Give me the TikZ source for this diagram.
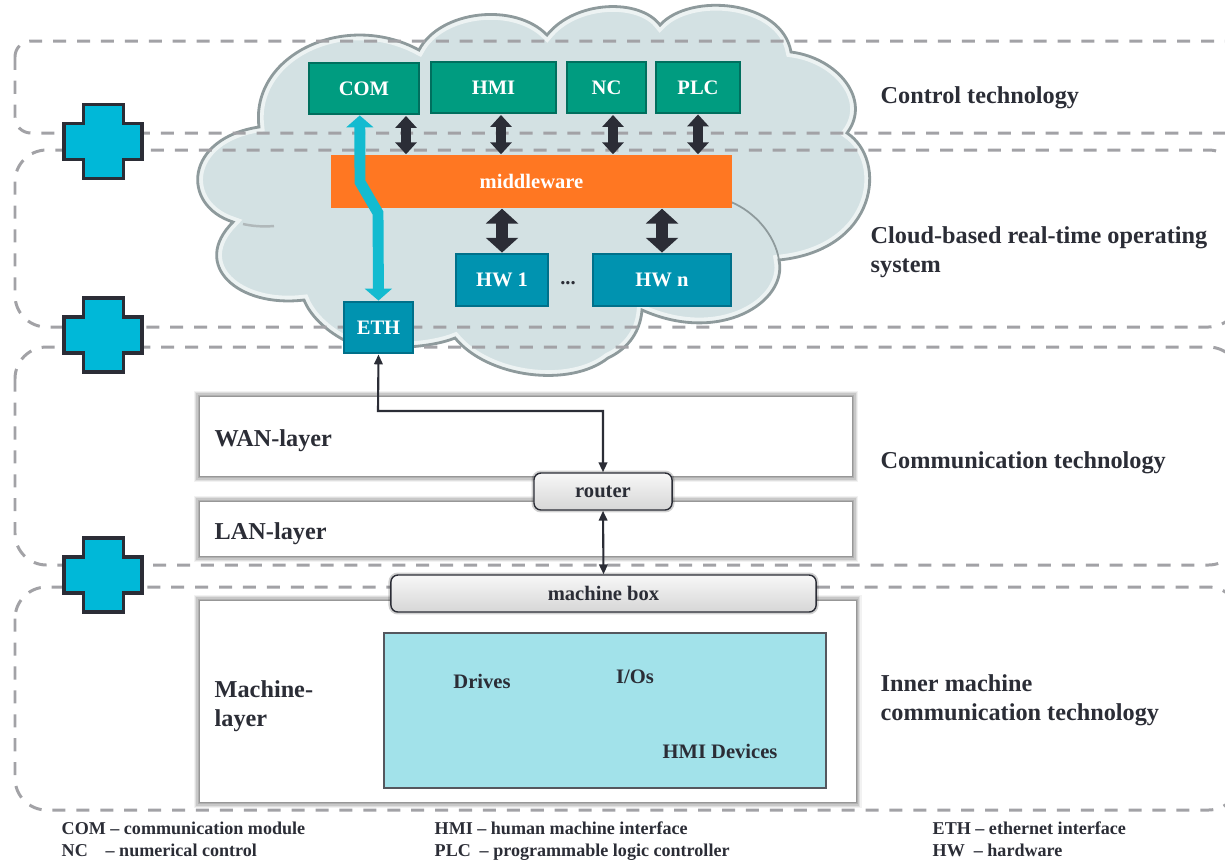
\documentclass[tikz,border=0pt]{standalone}
\usepackage{fontspec}
\setmainfont{Liberation Serif}
\usetikzlibrary{arrows.meta}
\definecolor{inktext}{HTML}{2B2D36}
\definecolor{dashgray}{HTML}{A2A2A6}
\definecolor{cloudfill}{HTML}{D3E1E3}
\definecolor{cloudedge}{HTML}{8E9A9C}
\definecolor{ctrlgreen}{HTML}{009C80}
\definecolor{ctrledge}{HTML}{006F5E}
\definecolor{hwblue}{HTML}{0093B0}
\definecolor{hwedge}{HTML}{00708A}
\definecolor{midorange}{HTML}{FF7722}
\definecolor{linkcyan}{HTML}{13BBD0}
\definecolor{crosscyan}{HTML}{00B8D8}
\definecolor{devicefill}{HTML}{A2E2EA}
\tikzset{
  x=0.01cm, y=-0.01cm,
  band/.style={dashgray, line width=0.85pt, dash pattern=on 3.7pt off 3.1pt},
  ctrlbox/.style={fill=ctrlgreen, draw=ctrledge, line width=.8pt, text=white, font=\bfseries\fontsize{5.85}{7}\selectfont, inner sep=0pt},
  hwbox/.style={fill=hwblue, draw=hwedge, line width=.8pt, text=white, font=\bfseries\fontsize{5.85}{7}\selectfont, inner sep=0pt},
  layerbox/.style={fill=white, inner sep=0pt,
    preaction={draw=black, line width=3.4pt, opacity=.05, yshift=-.2pt},
    preaction={draw=black, line width=2.7pt, opacity=.08, yshift=-.2pt},
    preaction={draw=black, line width=2pt, opacity=.10, yshift=-.2pt},
    preaction={draw=black, line width=1.3pt, opacity=.12, yshift=-.2pt},
    preaction={draw=black, line width=.6pt, opacity=.14, yshift=-.2pt}},
  gatebox/.style={top color=gray!6, bottom color=gray!32, draw=inktext, line width=.4pt, rounded corners=2pt,
    text=inktext, font=\bfseries\fontsize{5.85}{7}\selectfont, inner sep=0pt,
    preaction={draw=black, line width=1.4pt, opacity=.18, yshift=-.6pt}},
  label/.style={text=inktext, font=\bfseries\fontsize{6.9}{8.3}\selectfont, align=left, anchor=west, inner sep=0pt},
  devlabel/.style={text=inktext, font=\bfseries\fontsize{5.85}{7}\selectfont, inner sep=0pt},
  legend/.style={text=inktext, font=\bfseries\fontsize{5.14}{6}\selectfont, anchor=base west, inner sep=0pt},
  dblsmall/.style={inktext, line width=2.8pt, {Triangle[width=6pt,length=3.4pt]}-{Triangle[width=6pt,length=3.4pt]}},
  dblbig/.style={inktext, line width=3.4pt, {Triangle[width=9pt,length=4.2pt]}-{Triangle[width=9pt,length=4.2pt]}},
  dblthin/.style={inktext, line width=.6pt, {Triangle[width=2.4pt,length=2.8pt]}-{Triangle[width=2.4pt,length=2.8pt]}},
  plusmark/.style={fill=crosscyan, draw=inktext, line width=1pt, miter limit=10},
}
\newcommand{\cloudpath}{(259,127)
  .. controls (250,55) and (345,10) .. (419,50)
  .. controls (440,10) and (515,2) .. (547,35)
  .. controls (575,0) and (640,-2) .. (660,25)
  .. controls (690,-8) and (782,0) .. (791,52)
  .. controls (838,58) and (872,100) .. (847,133)
  .. controls (888,160) and (878,250) .. (779,260)
  .. controls (788,302) and (720,345) .. (642,310)
  .. controls (640,335) and (625,350) .. (608,358)
  .. controls (570,388) and (488,378) .. (455,338)
  .. controls (425,350) and (370,350) .. (344,340)
  .. controls (325,330) and (310,315) .. (304,300)
  .. controls (238,308) and (190,265) .. (233,222)
  .. controls (180,205) and (185,138) .. (259,127) -- cycle}
\begin{document}
\begin{tikzpicture}
  \clip (0,0) rectangle (1225,860);

  % cloud
  \fill[cloudfill] \cloudpath;
  \begin{scope}
    \clip \cloudpath;
    \draw[white, line width=3pt, opacity=.6] \cloudpath;
  \end{scope}
  \draw[cloudedge, line width=.8pt] \cloudpath;
  \draw[cloudedge, line width=.5pt] (731,202) .. controls (755,212) and (775,235) .. (779,260);
  \draw[cloudedge!70, line width=.7pt] (243,224) .. controls (252,226) and (262,227) .. (274,226);

  % dashed bands
  \draw[band, rounded corners=4.5pt] (15,41) rectangle (1270,133);
  \draw[band, rounded corners=9pt] (15,150) rectangle (1240,327);
  \draw[band, rounded corners=9pt] (15,347) rectangle (1240,565);
  \draw[band, rounded corners=9pt] (15,587) rectangle (1240,810);

  % control modules
  \node[ctrlbox, minimum width=1.10cm, minimum height=.51cm] (COM) at (364,88.5) {COM};
  \node[ctrlbox, minimum width=1.25cm, minimum height=.51cm] (HMI) at (493.5,87.5) {HMI};
  \node[ctrlbox, minimum width=.79cm, minimum height=.51cm] (NC) at (606.5,87.5) {NC};
  \node[ctrlbox, minimum width=.84cm, minimum height=.51cm] (PLC) at (698,87.5) {PLC};
  \node[fill=midorange, text=white, font=\bfseries\fontsize{5.85}{7}\selectfont, inner sep=0pt, minimum width=4.01cm, minimum height=.53cm] (mid) at (531.5,181.5) {middleware};
  \node[hwbox, minimum width=.92cm, minimum height=.52cm] (HW1) at (502,280) {HW 1};
  \node[hwbox, minimum width=1.38cm, minimum height=.52cm] (HWn) at (662,280) {HW n};
  \node[text=inktext, font=\bfseries\fontsize{5.85}{7}\selectfont, inner sep=0pt] (dots) at (568,283) {...};
  \node[hwbox, minimum width=.69cm, minimum height=.51cm] (ETH) at (378.5,327.5) {ETH};

  % layers
  \node[layerbox, minimum width=6.52cm, minimum height=.79cm] (WAN) at (526,436.5) {};
  \node[layerbox, minimum width=6.52cm, minimum height=.54cm] (LAN) at (526,529) {};
  \node[layerbox, minimum width=6.555cm, minimum height=2.01cm] (MACH) at (527.75,701.5) {};
  \node[fill=devicefill, draw=inktext!80, line width=.6pt, minimum width=4.42cm, minimum height=1.55cm, inner sep=0pt] (DEV) at (605,710.5) {};
  \node[gatebox, minimum width=1.38cm, minimum height=.37cm] (router) at (603,491.5) {router};
  \node[gatebox, minimum width=4.25cm, minimum height=.37cm] (mbox) at (603.5,593.5) {machine box};

  % arrows
  \coordinate (comdown) at (406,116);
  \coordinate (hmidown) at (501,115);
  \coordinate (ncdown) at (613,115);
  \draw[dblsmall] (comdown) -- (comdown |- mid.north);
  \draw[dblsmall] (hmidown) -- (hmidown |- mid.north);
  \draw[dblsmall] (ncdown) -- (ncdown |- mid.north);
  \draw[dblsmall] (PLC.south) -- (PLC.south |- mid.north);
  \draw[dblbig] (HW1.north) -- (HW1.north |- mid.south);
  \draw[dblbig] (HWn.north) -- (HWn.north |- mid.south);
  \draw[linkcyan, line width=3.1pt, {Triangle[width=7.6pt,length=3.4pt]}-{Triangle[width=7.6pt,length=3.4pt]}]
    (COM.261) -- (360,182) -- (378,213) -- (ETH.north);
  \draw[dblthin] (ETH.south) -- (378,411) -| (router.north);
  \draw[dblthin] (router.south) -- (mbox.north);

  % couplings
  \foreach \ymid in {141.5,335,575}
    \draw[plusmark] (83.5,\ymid-37) -- (123.5,\ymid-37) -- (123.5,\ymid-18) -- (142,\ymid-18)
      -- (142,\ymid+18) -- (123.5,\ymid+18) -- (123.5,\ymid+37) -- (83.5,\ymid+37)
      -- (83.5,\ymid+18) -- (64,\ymid+18) -- (64,\ymid-18) -- (83.5,\ymid-18) -- cycle;

  % texts
  \node[label] (t1) at (880,98) {Control technology};
  \node[label] (t2) at (870,252.5) {Cloud-based real-time operating\\system};
  \node[label] (t3) at (880,463) {Communication technology};
  \node[label] (t4) at (880,700.5) {Inner machine\\communication technology};
  \node[label] (wanl) at (214,441) {WAN-layer};
  \node[label] (lanl) at (214,534) {LAN-layer};
  \node[label] (machl) at (214,706) {Machine-\\layer};
  \node[devlabel] (drv) at (482,681) {Drives};
  \node[devlabel] (ios) at (635,677) {I/Os};
  \node[devlabel] (hmid) at (720,751) {HMI Devices};

  \node[legend] (k1) at (61,834) {COM -- communication module};
  \node[legend] (k2) at (61,856) {\makebox[12.5pt][l]{NC}-- numerical control};
  \node[legend] (k3) at (434,834) {HMI -- human machine interface};
  \node[legend] (k4) at (434,856) {\makebox[12.8pt][l]{PLC}-- programmable logic controller};
  \node[legend] (k5) at (932,834) {ETH -- ethernet interface};
  \node[legend] (k6) at (932,856) {\makebox[11.7pt][l]{HW}-- hardware};
\end{tikzpicture}
\end{document}
